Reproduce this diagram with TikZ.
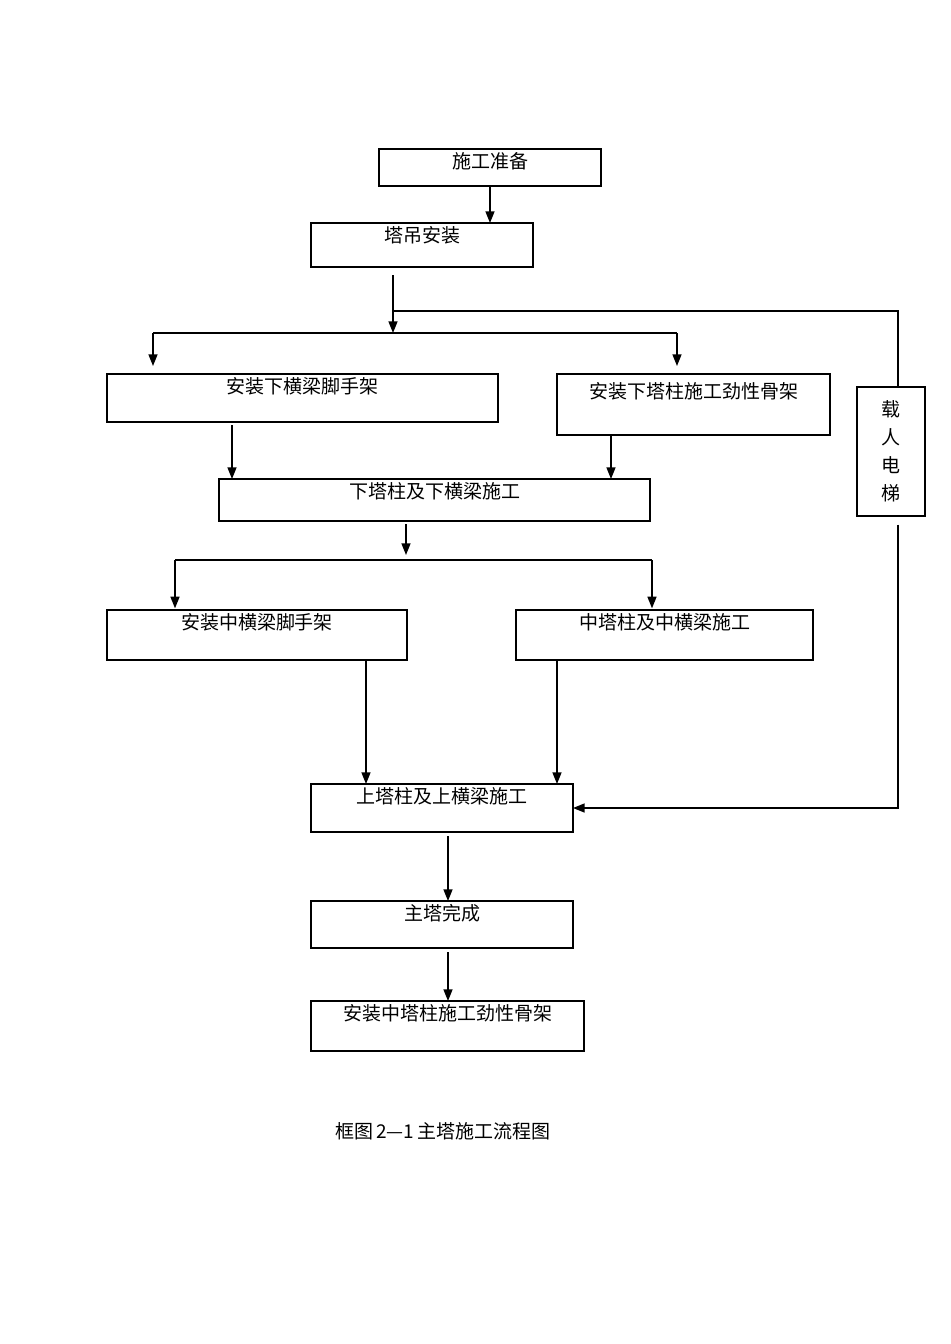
\documentclass[tikz,border=0pt]{standalone}
\usepackage{fontspec}
\usepackage{tikz}
\usetikzlibrary{arrows.meta, positioning, calc}
\newfontfamily\cjk{Noto Sans CJK SC}

\begin{document}
\begin{tikzpicture}[
      x=0.6pt, y=-0.6pt,
      box/.style 2 args = {draw, line width=0.8pt, anchor=north,
                     inner sep=0pt, outer sep=0pt,
                     minimum width=#1, text height=11.5pt, text depth=#2,
                     font=\cjk\fontsize{11.4}{13}\selectfont},
      arrow/.style= {-{Triangle[length=7pt, width=5.4pt]}, line width=0.9pt},
      link/.style = {line width=0.9pt}
    ]
    \useasboundingbox (0,0) rectangle (950,1344);

    % boxes, placed by their top edge
    \node[box={133.2pt}{10.7pt}] (prep)   at (490,149)   {施工准备};
    \node[box={133.2pt}{14.9pt}] (crane)  at (422,223)   {塔吊安装};
    \node[box={234.6pt}{17.3pt}] (lbscaf) at (302.5,374) {安装下横梁脚手架};
    \node[box={163.8pt}{22.1pt}, text height=14.5pt]
                                 (lskel)  at (693.5,374) {安装下塔柱施工劲性骨架};
    \node[draw, line width=0.8pt, minimum width=40.8pt, minimum height=77.4pt,
          inner sep=0pt, align=center,
          font=\cjk\fontsize{11.4}{16.8}\selectfont]
                                 (lift)   at (891,451.5) {载\\人\\电\\梯};
    \node[box={258.6pt}{13.7pt}] (lower)  at (434.5,479) {下塔柱及下横梁施工};
    \node[box={180pt}{18.5pt}]   (mbscaf) at (257,610)   {安装中横梁脚手架};
    \node[box={178.2pt}{18.5pt}] (middle) at (664.5,610) {中塔柱及中横梁施工};
    \node[box={157.2pt}{17.3pt}] (upper)  at (442,784)   {上塔柱及上横梁施工};
    \node[box={157.2pt}{16.7pt}] (done)   at (442,901)   {主塔完成};
    \node[box={163.8pt}{18.5pt}] (mskel)  at (447.5,1001){安装中塔柱施工劲性骨架};

    \node[font=\cjk\fontsize{11.4}{13}\selectfont] (caption) at (443,1131)
          {框图\,2—1\,主塔施工流程图};

    % branch points
    \coordinate (liftfork) at (393,311);
    \coordinate (fork1)  at (393,333);
    \coordinate (fork1l) at (153,333);
    \coordinate (fork1r) at (677,333);
    \coordinate (fork2)  at (406,560);
    \coordinate (fork2l) at (175,560);
    \coordinate (fork2r) at (652,560);

    \draw[arrow] (prep.south) -- (prep.south |- crane.north);
    \draw[arrow, shorten <=4.8pt] (crane.south -| fork1) -- (fork1);
    \draw[link] (fork1l) -- (fork1r);
    \draw[arrow, shorten >=4.8pt] (fork1l) -- (fork1l |- lbscaf.north);
    \draw[arrow, shorten >=4.8pt] (fork1r) -- (fork1r |- lskel.north);
    \draw[link] (liftfork) -| ([xshift=4.2pt]lift.north);

    \draw[arrow, shorten <=2pt] ([xshift=-42.3pt]lbscaf.south)
          -- ([xshift=-42.3pt]lbscaf.south |- lower.north);
    \draw[arrow] ([xshift=-49.5pt]lskel.south)
          -- ([xshift=-49.5pt]lskel.south |- lower.north);

    \draw[arrow, shorten <=2pt, shorten >=3pt] (lower.south -| fork2) -- (fork2);
    \draw[link] (fork2l) -- (fork2r);
    \draw[arrow, shorten >=1pt] (fork2l) -- (fork2l |- mbscaf.north);
    \draw[arrow, shorten >=1pt] (fork2r) -- (fork2r |- middle.north);

    \draw[arrow] ([xshift=65.4pt]mbscaf.south)
          -- ([xshift=65.4pt]mbscaf.south |- upper.north);
    \draw[arrow] ([xshift=-64.5pt]middle.south)
          -- ([xshift=-64.5pt]middle.south |- upper.north);
    \draw[arrow, shorten <=4.8pt] ([xshift=4.2pt]lift.south) |- (upper.east);

    \draw[arrow, shorten <=2.4pt] ([xshift=3.6pt]upper.south)
          -- ([xshift=3.6pt]upper.south |- done.north);
    \draw[arrow, shorten <=2.4pt] ([xshift=3.6pt]done.south)
          -- ([xshift=3.6pt]done.south |- mskel.north);
  \end{tikzpicture}
\end{document}
